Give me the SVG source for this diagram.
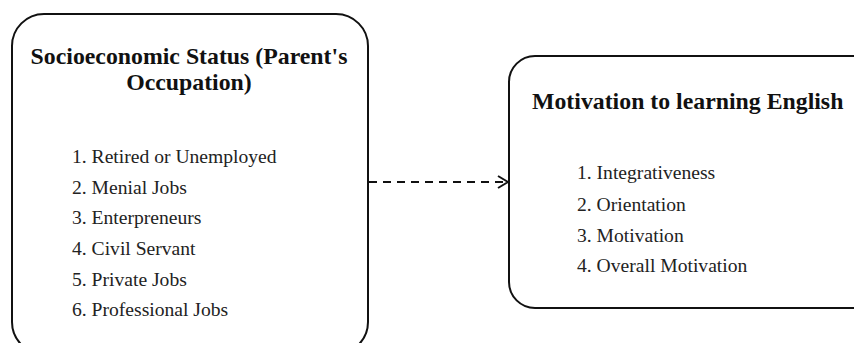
<svg xmlns="http://www.w3.org/2000/svg" width="854" height="343" viewBox="0 0 854 343">
<style>
.box{fill:#fff;stroke:#111;stroke-width:2}
.title{font-family:"Liberation Serif","Times New Roman",serif;font-weight:bold;font-size:23.8px;fill:#111}
.item{font-family:"Liberation Serif","Times New Roman",serif;font-size:19.6px;fill:#222}
.conn{stroke:#111;stroke-width:2;fill:none}
</style>
<defs>
<marker id="arr" viewBox="0 0 12 14" refX="11" refY="7" markerWidth="12" markerHeight="14" markerUnits="userSpaceOnUse" orient="auto">
<path d="M1,1 L11,7 L1,13" fill="none" stroke="#111" stroke-width="2"/>
</marker>
</defs>
<rect width="854" height="343" fill="#fff"/>
<g id="node-ses">
<rect class="box" x="12" y="14" width="356" height="340" rx="32"/>
<text class="title" x="189" y="64" text-anchor="middle">Socioeconomic Status (Parent's</text>
<text class="title" x="189" y="90" text-anchor="middle">Occupation)</text>
<text class="item" x="72" y="163">1. Retired or Unemployed</text>
<text class="item" x="72" y="194">2. Menial Jobs</text>
<text class="item" x="72" y="224">3. Enterpreneurs</text>
<text class="item" x="72" y="255">4. Civil Servant</text>
<text class="item" x="72" y="286">5. Private Jobs</text>
<text class="item" x="72" y="316">6. Professional Jobs</text>
</g>
<g id="node-motivation">
<rect class="box" x="509" y="56" width="370" height="252" rx="26"/>
<text class="title" x="532" y="109">Motivation to learning English</text>
<text class="item" x="577" y="179">1. Integrativeness</text>
<text class="item" x="577" y="211">2. Orientation</text>
<text class="item" x="577" y="242">3. Motivation</text>
<text class="item" x="577" y="272">4. Overall Motivation</text>
</g>
<g id="connectors">
<line class="conn" x1="369" y1="182" x2="508" y2="182" stroke-dasharray="8,6" marker-end="url(#arr)"/>
</g>
</svg>
